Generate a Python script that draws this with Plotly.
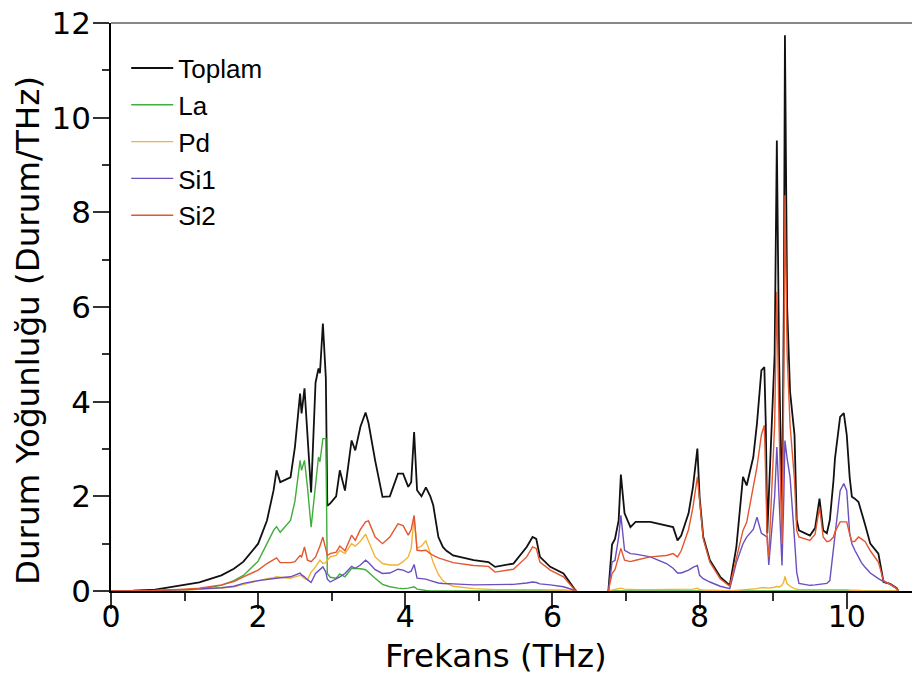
import plotly.graph_objects as go

freq = [0.00, 0.30, 0.60, 1.00, 1.20, 1.50, 1.67, 1.80, 2.00, 2.12,
        2.21, 2.25, 2.30, 2.44, 2.50, 2.57, 2.59, 2.63, 2.67, 2.72,
        2.78, 2.82, 2.84, 2.88, 2.92, 2.94, 2.98, 3.06, 3.11, 3.18,
        3.27, 3.32, 3.39, 3.46, 3.50, 3.59, 3.69, 3.79, 3.90, 3.97,
        4.04, 4.08, 4.12, 4.16, 4.22, 4.28, 4.34, 4.38, 4.45, 4.51,
        4.56, 4.65, 4.93, 5.13, 5.22, 5.47, 5.65, 5.73, 5.78, 5.83,
        5.97, 6.10, 6.15, 6.31, 6.33, 6.50, 6.76, 6.81, 6.85, 6.90,
        6.93, 6.98, 7.06, 7.13, 7.33, 7.55, 7.64, 7.70, 7.75, 7.85,
        7.91, 7.97, 8.00, 8.05, 8.14, 8.28, 8.41, 8.50, 8.59, 8.64,
        8.73, 8.78, 8.84, 8.88, 8.90, 8.92, 8.94, 9.02, 9.05, 9.08,
        9.12, 9.145, 9.16, 9.19, 9.23, 9.29, 9.32, 9.35, 9.50, 9.57,
        9.63, 9.68, 9.73, 9.77, 9.82, 9.84, 9.91, 9.96, 10.00, 10.04,
        10.07, 10.11, 10.16, 10.20, 10.25, 10.32, 10.43, 10.50, 10.59, 10.68,
        10.70]

toplam = [0, 0.005, 0.03, 0.12, 0.18, 0.33, 0.47, 0.62, 1.0, 1.49,
          2.13, 2.55, 2.30, 2.40, 3.04, 4.17, 3.75, 4.28, 3.3, 2.08,
          4.4, 4.7, 4.6, 5.65, 4.5, 1.8, 1.85, 2.0, 2.55, 2.12,
          3.18, 2.97, 3.47, 3.77, 3.55, 2.76, 1.99, 2.0, 2.48, 2.48,
          2.2, 2.3, 3.36, 2.13, 2.0, 2.19, 2.0, 1.81, 1.14, 0.93,
          0.85, 0.75, 0.65, 0.61, 0.51, 0.58, 0.93, 1.14, 1.1, 0.72,
          0.51, 0.40, 0.37, 0.02, 0, None, 0, 0.98, 1.1, 1.49,
          2.46, 1.64, 1.35, 1.46, 1.46, 1.39, 1.35, 1.07, 1.17, 1.64,
          2.2, 3.01, 1.99, 1.14, 0.65, 0.3, 0.12, 0.93, 2.41, 2.23,
          2.83, 3.54, 4.66, 4.73, 3.5, 1.22, 2.0, 5.0, 9.52, 5.0,
          1.5, 6.0, 11.74, 6.0, 4.2, 3.3, 1.5, 1.28, 1.17, 1.33,
          1.95, 1.28, 1.22, 1.5, 2.34, 2.8, 3.68, 3.76, 3.3, 2.4,
          1.99, 1.95, 1.88, 1.64, 1.4, 1.0, 0.79, 0.19, 0.15, 0.06,
          0]

la = [0, 0, 0.005, 0.02, 0.04, 0.12, 0.22, 0.33, 0.63, 1.0,
      1.28, 1.36, 1.24, 1.49, 1.9, 2.76, 2.55, 2.76, 2.2, 1.35,
      2.34, 2.83, 2.73, 3.22, 3.22, 0.37, 0.29, 0.27, 0.36, 0.30,
      0.48, 0.48, 0.47, 0.45, 0.40, 0.27, 0.14, 0.09, 0.06, 0.05,
      0.06, 0.07, 0.09, 0.04, 0.02, 0.01, 0, 0, 0, 0,
      0, 0, 0, 0, 0, 0, 0, 0, 0, 0,
      0, 0, 0, 0, 0, None, 0, 0, 0, 0,
      0, 0, 0, 0, 0, 0, 0, 0, 0, 0,
      0, 0, 0, 0, 0, 0, 0, 0, 0, 0,
      0, 0, 0, 0, 0, 0, 0, 0, 0, 0,
      0, 0, 0, 0, 0, 0, 0, 0, 0, 0,
      0, 0, 0, 0, 0, 0, 0, 0, 0, 0,
      0, 0, 0, 0, 0, 0, 0, 0, 0, 0,
      0]

pd_ = [0, 0, 0.005, 0.02, 0.03, 0.06, 0.09, 0.14, 0.22, 0.26,
       0.28, 0.30, 0.29, 0.27, 0.30, 0.33, 0.32, 0.26, 0.24, 0.40,
       0.51, 0.62, 0.65, 0.58, 0.60, 0.65, 0.72, 0.75, 0.86, 0.79,
       1.0, 0.95, 1.05, 1.2, 1.05, 0.72, 0.58, 0.55, 0.55, 0.62,
       0.72, 0.9, 1.56, 0.9, 0.95, 1.06, 0.8, 0.6, 0.35, 0.22,
       0.16, 0.1, 0.05, 0.03, 0.03, 0.03, 0.03, 0.04, 0.04, 0.03,
       0.02, 0.02, 0.02, 0.0, 0, None, 0, 0.02, 0.03, 0.04,
       0.06, 0.04, 0.03, 0.03, 0.03, 0.03, 0.03, 0.03, 0.03, 0.03,
       0.04, 0.06, 0.03, 0.02, 0.01, 0.01, 0, 0.01, 0.02, 0.02,
       0.04, 0.05, 0.07, 0.08, 0.07, 0.06, 0.06, 0.08, 0.1, 0.08,
       0.12, 0.2, 0.31, 0.15, 0.1, 0.05, 0.04, 0.03, 0.03, 0.03,
       0.03, 0.03, 0.03, 0.03, 0.03, 0.03, 0.04, 0.04, 0.03, 0.02,
       0.02, 0.01, 0.01, 0.01, 0, 0, 0, 0, 0, 0,
       0]

si1 = [0, 0, 0.01, 0.03, 0.04, 0.07, 0.10, 0.16, 0.22, 0.25,
       0.27, 0.28, 0.28, 0.30, 0.33, 0.38, 0.34, 0.30, 0.24, 0.18,
       0.37, 0.42, 0.45, 0.51, 0.40, 0.25, 0.19, 0.25, 0.30, 0.37,
       0.52, 0.48, 0.55, 0.65, 0.6, 0.45, 0.37, 0.38, 0.46, 0.44,
       0.39, 0.42, 0.56, 0.27, 0.26, 0.25, 0.22, 0.2, 0.17, 0.16,
       0.16, 0.15, 0.13, 0.13, 0.13, 0.14, 0.17, 0.19, 0.18, 0.15,
       0.13, 0.1, 0.09, 0.01, 0, None, 0, 0.61, 0.65, 1.14,
       1.6, 0.86, 0.79, 0.78, 0.72, 0.58, 0.48, 0.38, 0.38, 0.44,
       0.5, 0.54, 0.33, 0.26, 0.19, 0.1, 0.05, 0.6, 1.0, 1.14,
       1.3, 1.56, 1.22, 1.18, 1.15, 1.14, 0.55, 2.0, 3.04, 2.0,
       0.54, 2.0, 3.18, 2.8, 2.4, 1.1, 0.4, 0.16, 0.12, 0.13,
       0.14, 0.14, 0.16, 0.22, 0.9, 1.28, 2.12, 2.27, 2.12, 1.22,
       1.0, 0.86, 0.7, 0.6, 0.5, 0.38, 0.26, 0.2, 0.15, 0.05,
       0]

si2 = [0, 0.002, 0.01, 0.04, 0.06, 0.13, 0.20, 0.30, 0.44, 0.58,
       0.66, 0.70, 0.60, 0.60, 0.62, 0.75, 0.72, 0.93, 0.65, 0.62,
       0.72, 0.85, 0.95, 1.14, 0.9, 0.75, 0.79, 0.82, 0.95, 0.85,
       1.18, 1.07, 1.3, 1.46, 1.48, 1.14, 1.0, 1.14, 1.42, 1.38,
       1.18, 1.3, 1.6, 0.86, 0.85, 0.86, 0.79, 0.75, 0.7, 0.67,
       0.65, 0.6, 0.54, 0.52, 0.4, 0.46, 0.72, 0.93, 0.9, 0.61,
       0.44, 0.35, 0.3, 0.01, 0, None, 0, 0.37, 0.45, 0.72,
       0.9, 0.65, 0.62, 0.65, 0.72, 0.75, 0.79, 0.72, 0.85, 1.3,
       1.77, 2.41, 1.92, 1.1, 0.61, 0.26, 0.1, 0.7, 1.28, 1.45,
       2.2, 2.62, 3.3, 3.5, 2.34, 1.0, 0.72, 3.5, 6.32, 3.5,
       1.0, 4.5, 8.36, 5.0, 3.5, 2.34, 1.28, 1.14, 1.07, 1.2,
       1.77, 1.14, 1.04, 1.06, 1.14, 1.25, 1.46, 1.46, 1.46, 1.2,
       1.04, 1.05, 1.14, 1.1, 1.04, 0.85, 0.61, 0.22, 0.13, 0.05,
       0]

x_tick_vals = [0, 2, 4, 6, 8, 10]
x_tick_text = ["0", "2", "4", "6", "8", "10"]
y_tick_vals = [0, 2, 4, 6, 8, 10, 12]
y_tick_text = ["0", "2", "4", "6", "8", "10", "12"]

series_names = ["Toplam", "La", "Pd", "Si1", "Si2"]
series_values = [toplam, la, pd_, si1, si2]
series_colors = ["#111111", "#3fae3a", "#f2b233", "#6a4fbf", "#e2572f"]
series_widths = [1.8, 1.4, 1.4, 1.4, 1.4]

for s in series_values:
    assert len(s) == len(freq)

fig = go.Figure()
for name, vals, col, w in zip(series_names, series_values, series_colors, series_widths):
    fig.add_trace(go.Scatter(x=freq, y=vals, mode="lines", name=name,
                             line=dict(color=col, width=w), connectgaps=False))

font_leg = "Liberation Sans, Arial, sans-serif"
font_ax = "DejaVu Sans, Verdana, sans-serif"

fig.update_layout(
    width=912, height=684,
    margin=dict(l=111, r=0, t=23, b=93, autoexpand=False),
    paper_bgcolor="white", plot_bgcolor="white",
    font=dict(family=font_ax, color="black"),
    showlegend=True,
    legend=dict(x=0.019, y=0.962, xanchor="left", yanchor="top",
                bgcolor="rgba(0,0,0,0)", borderwidth=0,
                font=dict(size=26, family=font_leg, color="black"),
                itemwidth=42, tracegroupgap=0),
    xaxis=dict(range=[0, 10.887], showgrid=False, zeroline=False,
               showline=True, linecolor="black", linewidth=1.5,
               ticks="outside", ticklen=16, tickwidth=1.5, tickcolor="#333",
               tickvals=x_tick_vals, ticktext=x_tick_text,
               tickfont=dict(size=30, family=font_ax, color="black"),
               ticklabelstandoff=-18,
               minor=dict(ticks="outside", ticklen=8, tickwidth=1.5, tickcolor="#333",
                          tickvals=[1, 3, 5, 7, 9])),
    yaxis=dict(range=[0, 12], showgrid=False, zeroline=False,
               showline=True, linecolor="black", linewidth=1.5,
               ticks="outside", ticklen=16, tickwidth=1.5, tickcolor="#333",
               tickvals=y_tick_vals, ticktext=y_tick_text,
               tickfont=dict(size=31, family=font_ax, color="black"),
               ticklabelstandoff=-4,
               minor=dict(ticks="outside", ticklen=7, tickwidth=1.5, tickcolor="#333",
                          tickvals=[1, 3, 5, 7, 9, 11])),
    shapes=[dict(type="line", xref="paper", yref="paper", x0=0, x1=1, y0=1, y1=1,
                 line=dict(color="#888888", width=2))],
    annotations=[
        dict(text="Frekans (THz)", xref="paper", yref="paper",
             x=(496 - 111) / 801, y=(591 - 656) / 568, xanchor="center", yanchor="middle",
             showarrow=False, font=dict(size=32.5, family=font_ax, color="black")),
        dict(text="Durum Yoğunluğu (Durum/THz)", xref="paper", yref="paper",
             x=(28 - 111) / 801, y=(591 - 331) / 568, xanchor="center", yanchor="middle",
             textangle=-90, showarrow=False,
             font=dict(size=32.5, family=font_ax, color="black")),
    ],
)

fig.write_html("out.html")
